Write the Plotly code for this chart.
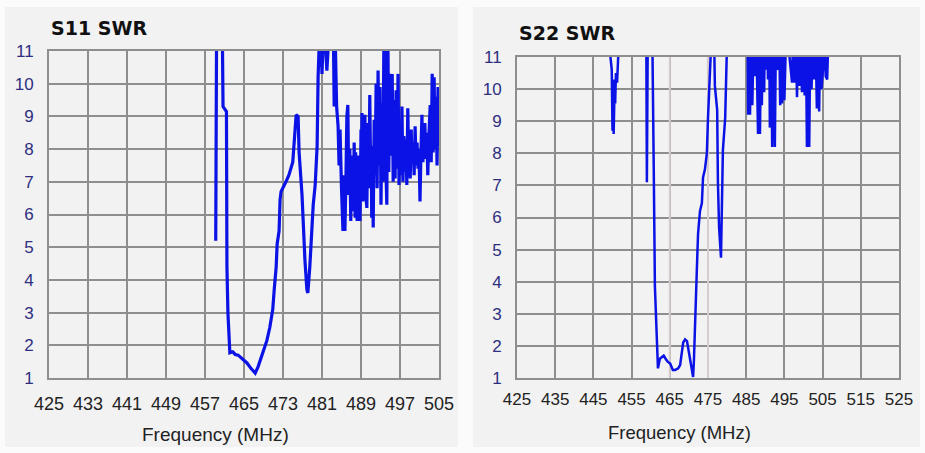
import plotly.graph_objects as go

# ---------------- data ----------------
s11_freq = [459.2, 459.4, 460.5, 460.7, 461.4, 461.5, 461.7, 462.0, 462.1, 462.7, 463.2, 463.8, 464.7,
            465.6, 466.5, 467.3, 467.9, 468.7, 469.7, 470.3, 470.9, 471.2, 471.6, 471.8, 472.2, 472.4,
            472.6, 473.6, 474.2, 475.0, 475.3, 475.7, 476.1, 476.3, 476.9, 477.1, 477.5, 477.9, 478.1,
            478.5, 478.9, 479.2, 479.6, 480.0, 480.2, 480.6, 481.0, 481.4, 482.0, 482.6, 483.0,
            483.3, 483.5, 483.7, 484.0, 484.3, 484.5, 484.7, 485.0, 485.3, 485.5, 485.7,
            485.9, 486.0, 486.1, 486.3, 486.4, 486.5, 486.7, 486.8, 486.9, 487.1, 487.2, 487.4, 487.5,
            487.6, 487.8, 487.9, 488.0, 488.2, 488.3, 488.4, 488.6, 488.7, 488.8, 489.0, 489.1, 489.2,
            489.4, 489.5, 489.6, 489.8, 489.9, 490.0, 490.2, 490.3, 490.4, 490.6, 490.7, 490.8, 491.0,
            491.1, 491.2, 491.4, 491.5, 491.7, 491.8, 491.9, 492.1, 492.2, 492.3, 492.5, 492.6, 492.7,
            492.9, 493.0, 493.1, 493.3, 493.4, 493.5, 493.7, 493.9, 494.0, 494.1, 494.3, 494.5, 494.6,
            494.7, 494.9, 495.0, 495.1, 495.4, 495.5, 495.6, 495.8, 495.9, 496.0, 496.2, 496.3, 496.4,
            496.6, 496.7, 496.8, 497.0, 497.1, 497.2, 497.4, 497.5, 497.6, 497.8, 497.9, 498.0, 498.2,
            498.4, 498.5, 498.6, 498.8, 498.9, 499.1, 499.3, 499.4, 499.5, 499.7, 499.8, 499.9, 500.1,
            500.2, 500.3, 500.5, 500.6, 500.7, 500.9, 501.0, 501.1, 501.3, 501.5, 501.6, 501.7, 501.9,
            502.0, 502.1, 502.3, 502.4, 502.5, 502.7, 502.8, 502.9, 503.2, 503.3, 503.4, 503.6, 503.7,
            503.8, 504.0, 504.1, 504.2, 504.4, 504.5, 504.6, 504.8, 504.9, 505.0]
s11_swr = [5.2, 12.5, 12.5, 9.3, 9.15, 4.4, 3.0, 1.85, 1.77, 1.8, 1.72, 1.7, 1.58,
           1.46, 1.28, 1.15, 1.35, 1.7, 2.15, 2.55, 3.1, 3.7, 4.4, 5.1, 5.5, 6.45,
           6.7, 7.0, 7.2, 7.6, 8.4, 9.05, 9.0, 7.9, 6.6, 5.7, 4.6, 3.7, 3.6,
           4.4, 5.8, 6.3, 6.9, 8.1, 10.2, 12.0, 10.3, 12.0, 10.4, 12.0, 12.0,
           12.0, 9.3, 11.5, 9.3, 8.7, 7.5, 8.6, 6.8, 5.5, 7.2, 5.5,
           7.0, 8.2, 9.0, 9.35, 7.4, 6.6, 8.0, 7.0, 5.8, 7.8, 7.5, 6.1, 7.3,
           8.2, 5.9, 7.9, 7.0, 5.8, 7.2, 7.8, 6.0, 7.4, 5.8, 8.6, 7.1, 9.1,
           6.4, 7.6, 8.5, 9.05, 7.0, 6.6, 6.2, 7.7, 8.8, 6.8, 8.3, 9.65, 7.0,
           8.1, 5.9, 7.4, 5.6, 8.9, 7.6, 7.2, 10.0, 7.9, 6.8, 10.4, 8.2, 7.5,
           9.9, 7.1, 6.3, 9.4, 7.9, 7.0, 11.5, 12.0, 8.0, 7.5, 6.3, 12.0, 8.4,
           7.3, 10.3, 8.0, 7.8, 10.3, 8.2, 7.0, 9.5, 8.0, 7.1, 9.8, 8.1, 7.4,
           10.3, 8.0, 6.9, 8.8, 7.9, 7.2, 9.3, 8.1, 7.0, 8.4, 7.6, 7.3, 8.3,
           6.9, 8.0, 9.25, 7.4, 8.3, 7.1, 8.6, 7.9, 7.6, 8.2, 7.3, 7.2, 8.7,
           7.8, 7.5, 8.2, 7.7, 7.4, 8.0, 7.3, 6.4, 7.9, 9.05, 8.0, 7.6, 8.4,
           7.7, 8.8, 7.8, 8.2, 8.5, 7.2, 7.9, 8.3, 9.35, 8.1, 7.6, 10.3, 8.4,
           7.9, 10.2, 8.6, 8.0, 9.6, 8.2, 7.5, 9.9, 8.1, 8.6]

s22_freq = [449.0, 449.3, 449.8, 450.0, 450.2, 450.3, 450.5, 450.7, 450.9, 451.2, 451.6, 452.0,
            458.8, 459.0, 459.3, 460.3, 460.6, 460.8, 461.1, 461.6, 461.9, 462.4, 463.0, 463.4,
            463.9, 464.5, 465.1, 465.8, 466.4, 467.2, 467.7, 468.2, 468.5, 469.0, 469.5, 470.0,
            470.3, 470.7, 471.1, 471.3, 471.6, 472.1, 472.4, 472.9, 473.4, 473.7, 474.2, 474.7,
            475.0, 475.5, 476.0, 476.4, 476.8, 477.1, 477.4, 477.6, 477.9, 478.4, 478.7, 478.9,
            479.5, 480.0, 480.3,
            485.3, 485.5, 485.8, 486.0, 486.3, 486.6, 487.0, 487.3, 487.6, 487.9, 488.1, 488.4,
            488.6, 488.9, 489.1, 489.4, 489.7, 489.9, 490.2, 490.5, 490.7, 491.0, 491.2, 491.5,
            491.8, 492.1, 492.5, 492.8, 493.0, 493.3, 493.6, 493.9, 494.1, 494.4, 494.7, 495.0,
            495.2, 495.5, 497.0, 497.3, 497.6, 497.9, 498.3, 498.6, 498.9, 499.2, 499.6, 499.9,
            500.3, 500.6, 500.9, 501.2, 501.5, 501.8, 502.1, 502.5, 502.8, 503.1, 503.5, 503.8,
            504.1, 504.4, 504.7, 505.1, 505.5, 505.8, 506.2, 506.6, 506.9, 507.2]
s22_swr = [13.0, 11.2, 10.6, 8.7, 10.3, 8.6, 9.8, 9.55, 10.5, 10.2, 11.3, 13.0,
           13.0, 7.1, 13.0, 13.0, 7.6, 7.5, 3.85, 1.9, 1.3, 1.6, 1.65, 1.7,
           1.6, 1.5, 1.45, 1.25, 1.25, 1.3, 1.4, 1.8, 2.1, 2.2, 2.15, 1.8,
           1.6, 1.3, 1.03, 1.5, 2.9, 4.45, 5.5, 6.2, 6.45, 7.25, 7.5, 8.0,
           9.1, 10.2, 11.2, 13.0, 10.1, 9.8, 9.35, 7.1, 5.7, 4.75, 6.5, 8.1,
           9.1, 10.6, 13.0,
           13.0, 9.2, 12.0, 9.2, 12.0, 9.5, 12.0, 10.4, 12.0, 10.2, 8.6, 12.0,
           8.6, 11.5, 9.5, 12.0, 9.9, 12.0, 10.6, 12.0, 10.3, 12.0, 8.8, 12.0,
           8.2, 12.0, 8.2, 12.0, 10.9, 10.6, 12.0, 9.5, 12.0, 9.55, 12.0, 9.65,
           10.3, 12.0, 10.2, 12.0, 10.2, 12.0, 9.75, 12.0, 10.1, 12.0, 9.9, 12.0,
           9.8, 12.0, 8.2, 12.0, 8.2, 12.0, 10.0, 12.0, 10.3, 12.0, 9.4, 12.0,
           9.3, 12.0, 10.0, 10.6, 12.0, 10.4, 10.3, 12.0, 11.0, 13.0]

s11_ticks = [425, 433, 441, 449, 457, 465, 473, 481, 489, 497, 505]
s22_ticks = [425, 435, 445, 455, 465, 475, 485, 495, 505, 515, 525]
swr_ticks = [1, 2, 3, 4, 5, 6, 7, 8, 9, 10, 11]
titles = ["S11 SWR", "S22 SWR"]
xlabel = "Frequency (MHz)"

# ---------------- figure ----------------
W, H = 925, 453
LINE = "#0b12e6"
GRID = "#8e8e8e"
YTICK = "#2e2e80"

def px(x):
    return x / W

def py(y):
    return 1 - y / H

fig = go.Figure()
fig.add_trace(go.Scatter(x=s11_freq, y=s11_swr, mode="lines",
                         line=dict(color=LINE, width=3.2), xaxis="x", yaxis="y",
                         showlegend=False, hoverinfo="x+y"))
fig.add_trace(go.Scatter(x=s22_freq, y=s22_swr, mode="lines",
                         line=dict(color=LINE, width=2.5), xaxis="x2", yaxis="y2",
                         showlegend=False, hoverinfo="x+y"))

common_x = dict(showgrid=True, gridcolor=GRID, gridwidth=2, showline=True, linecolor=GRID,
                linewidth=2, mirror=True, ticks="", zeroline=False, fixedrange=True,
                automargin=False)
common_y = dict(range=[1, 11], tickvals=swr_ticks, showgrid=True, gridcolor=GRID, gridwidth=2,
                showline=True, linecolor=GRID, linewidth=2, mirror=True, ticks="",
                zeroline=False, fixedrange=True, automargin=False)

fig.update_layout(
    template="none",
    width=W, height=H,
    margin=dict(l=0, r=0, t=0, b=0, pad=0),
    showlegend=False,
    paper_bgcolor="#fbfbfb",
    plot_bgcolor="#f6f6f6",
    font=dict(family="Liberation Sans, Arial, sans-serif", color="#222222"),
    xaxis=dict(domain=[px(49), px(439)], range=[425, 505], tickvals=s11_ticks,
               tickfont=dict(size=18, color="#222222"), ticklabelstandoff=8, anchor="y",
               **common_x),
    yaxis=dict(domain=[py(378), py(51)], anchor="x",
               tickfont=dict(size=17, color=YTICK), ticklabelstandoff=10, **common_y),
    xaxis2=dict(domain=[px(517), px(899)], range=[425, 525], tickvals=s22_ticks,
                tickfont=dict(size=17, color="#222222"), ticklabelstandoff=5, anchor="y2",
                **common_x),
    yaxis2=dict(domain=[py(378), py(57)], anchor="x2",
                tickfont=dict(size=17, color=YTICK), ticklabelstandoff=10, **common_y),
)

# panel backgrounds
fig.add_shape(type="rect", xref="paper", yref="paper", x0=px(5), x1=px(458), y0=py(447), y1=py(7),
              fillcolor="#f2f2f2", line=dict(width=0), layer="below")
fig.add_shape(type="rect", xref="paper", yref="paper", x0=px(473), x1=px(920), y0=py(447), y1=py(7),
              fillcolor="#f2f2f2", line=dict(width=0), layer="below")

# lighter marker lines in S22 chart
for f in (465, 475):
    fig.add_shape(type="line", xref="x2", yref="y2", x0=f, x1=f, y0=1, y1=11,
                  line=dict(color="#d6cccc", width=2), layer="between")

# titles
fig.add_annotation(text="<b>" + titles[0] + "</b>", xref="paper", yref="paper",
                   x=px(49), y=py(28.5), xanchor="left", yanchor="middle", showarrow=False,
                   font=dict(family="DejaVu Sans, sans-serif", size=19, color="#111111"))
fig.add_annotation(text="<b>" + titles[1] + "</b>", xref="paper", yref="paper",
                   x=px(517), y=py(32.5), xanchor="left", yanchor="middle", showarrow=False,
                   font=dict(family="DejaVu Sans, sans-serif", size=19, color="#111111"))

# axis titles
fig.add_annotation(text=xlabel, xref="paper", yref="paper", x=px(215), y=py(434),
                   xanchor="center", yanchor="middle", showarrow=False,
                   font=dict(size=19, color="#222222"))
fig.add_annotation(text=xlabel, xref="paper", yref="paper", x=px(679), y=py(432),
                   xanchor="center", yanchor="middle", showarrow=False,
                   font=dict(size=18.5, color="#222222"))

fig.write_html("out.html", config={"displayModeBar": False},
               post_script="document.body.style.margin='0';document.body.style.overflow='hidden';")
